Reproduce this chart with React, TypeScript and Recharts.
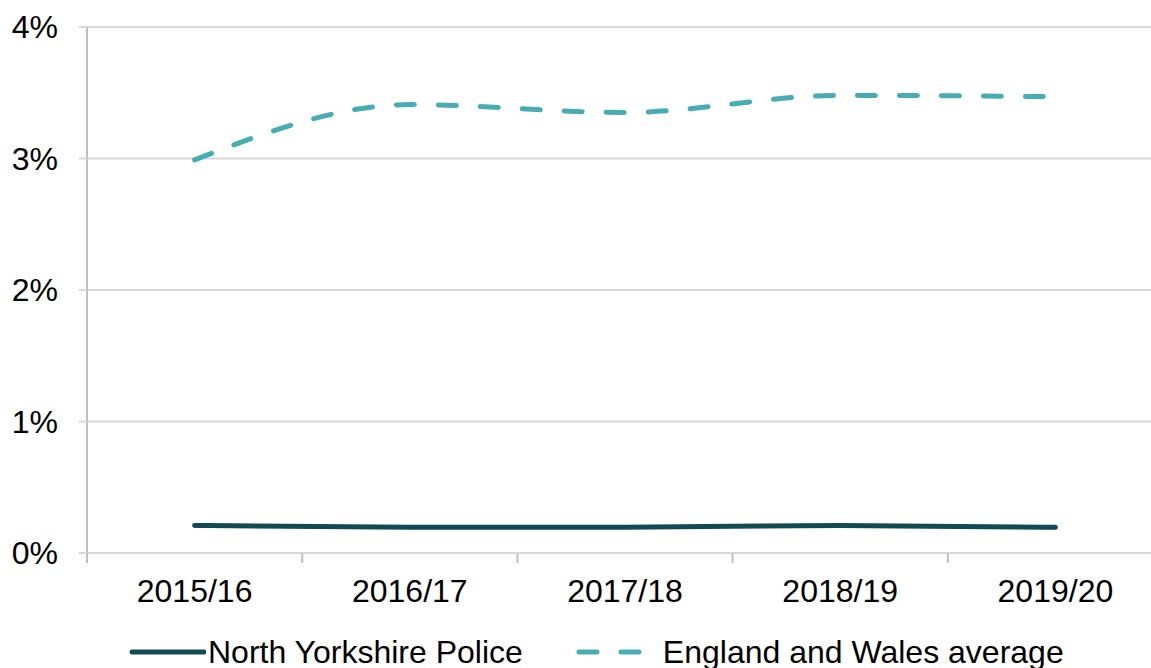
import React from "react";
import { LineChart, Line, XAxis, YAxis, CartesianGrid, Legend } from "recharts";

const categories = ["2015/16", "2016/17", "2017/18", "2018/19", "2019/20"];
const northYorkshire = [0.21, 0.195, 0.195, 0.21, 0.195];
const englandWales = [2.99, 3.41, 3.35, 3.48, 3.47];
const yTicks = [0, 1, 2, 3, 4];

const seriesNames = ["North Yorkshire Police", "England and Wales average"];
const solidColor = "#124a53";
const dashColor = "#46adb2";

const data = categories.map((c, i) => ({
  idx: i,
  cat: c,
  ny: northYorkshire[i],
  ew: englandWales[i],
}));
const labelTicks = categories.map((_, i) => i);
const boundaryTicks = categories.map((_, i) => i - 0.5).concat([categories.length - 0.5]);

const FONT = "'Liberation Sans', Arial, sans-serif";
const FS = 32;

const LegendContent = () => (
  <div
    style={{
      display: "flex",
      alignItems: "center",
      height: 32,
      lineHeight: "32px",
      fontFamily: FONT,
      fontSize: FS,
      color: "#000",
      paddingLeft: 128,
      whiteSpace: "nowrap",
    }}
  >
    <svg width={78} height={10} style={{ display: "block" }}>
      <line x1={4} y1={5} x2={76} y2={5} stroke={solidColor} strokeWidth={5} strokeLinecap="round" />
    </svg>
    <span style={{ marginLeft: 2 }}>{seriesNames[0]}</span>
    <svg width={78} height={10} style={{ display: "block", marginLeft: 52 }}>
      <line x1={4} y1={5} x2={76} y2={5} stroke={dashColor} strokeWidth={5} strokeLinecap="round" strokeDasharray="18 24" />
    </svg>
    <span style={{ marginLeft: 10 }}>{seriesNames[1]}</span>
  </div>
);

export default function App() {
  return (
    <div style={{ position: "fixed", left: 0, top: 0, width: 1151, height: 668, overflow: "hidden", background: "#fff" }}>
      <LineChart
        width={1165}
        height={668}
        data={data}
        margin={{ top: 27, right: 2, left: 0, bottom: 0 }}
        style={{ fontFamily: FONT }}
      >
        <CartesianGrid vertical={false} stroke="#d9d9d9" strokeWidth={2} xAxisId="b" />
        <XAxis
          xAxisId="a"
          type="number"
          dataKey="idx"
          domain={[-0.5, categories.length - 0.5]}
          ticks={boundaryTicks}
          tickFormatter={() => ""}
          tickSize={10}
          tickLine={{ stroke: "#bfbfbf", strokeWidth: 2 }}
          axisLine={false}
          height={10}
          interval={0}
        />
        <XAxis
          xAxisId="b"
          type="number"
          dataKey="idx"
          domain={[-0.5, categories.length - 0.5]}
          ticks={labelTicks}
          tickFormatter={(v: number) => categories[v] ?? ""}
          tickLine={false}
          axisLine={false}
          tickSize={0}
          tickMargin={16}
          height={73}
          interval={0}
          tick={{ fill: "#000", fontSize: FS, fontFamily: FONT }}
        />
        <YAxis
          domain={[0, 4]}
          ticks={yTicks}
          tickFormatter={(v: number) => `${v}%`}
          width={87}
          tickSize={8}
          tickMargin={21}
          axisLine={{ stroke: "#bfbfbf", strokeWidth: 2 }}
          tickLine={{ stroke: "#d9d9d9", strokeWidth: 2 }}
          tick={{ fill: "#000", fontSize: FS, fontFamily: FONT }}
          interval={0}
        />
        <Legend verticalAlign="bottom" align="left" content={<LegendContent />} />
        <Line
          xAxisId="b"
          type="monotone"
          dataKey="ny"
          name={seriesNames[0]}
          stroke={solidColor}
          strokeWidth={5}
          strokeLinecap="round"
          dot={false}
          activeDot={false}
          isAnimationActive={false}
        />
        <Line
          xAxisId="b"
          type="monotone"
          dataKey="ew"
          name={seriesNames[1]}
          stroke={dashColor}
          strokeWidth={5}
          strokeLinecap="round"
          strokeDasharray="18 24"
          dot={false}
          activeDot={false}
          isAnimationActive={false}
        />
      </LineChart>
    </div>
  );
}
